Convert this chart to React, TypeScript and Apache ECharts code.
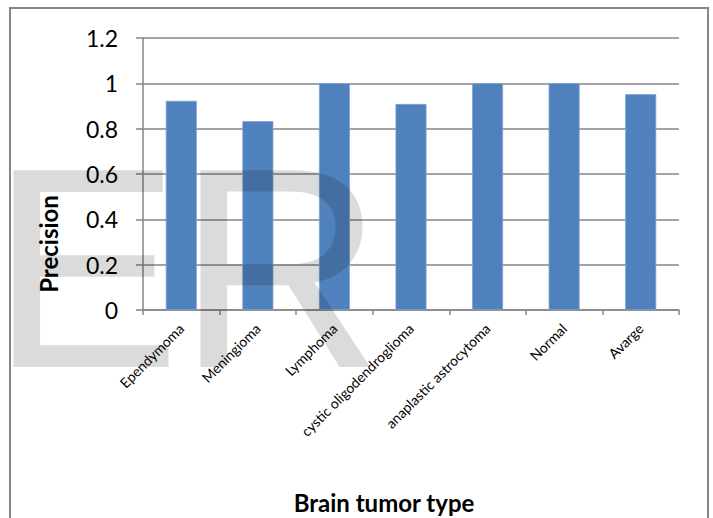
import React, { useEffect, useRef } from "react";
import * as echarts from "echarts";

const categories = [
  "Ependymoma",
  "Meningioma",
  "Lymphoma",
  "cystic oligodendroglioma",
  "anaplastic astrocytoma",
  "Normal",
  "Avarge",
];
const precision = [0.923, 0.833, 1, 0.909, 1, 1, 0.952];
const yTicks = { min: 0, max: 1.2, interval: 0.2 };
const yTitle = "Precision";
const xTitle = "Brain tumor type";
const watermark = ["E", "R"];

const GRAY = "#868686";
const FONT = "Lato, 'Noto Sans', sans-serif";

export default function App() {
  const ref = useRef<HTMLDivElement>(null);
  useEffect(() => {
    if (!ref.current) return;
    const chart = echarts.init(ref.current, undefined, { renderer: "svg" });
    chart.setOption({
      animation: false,
      backgroundColor: "#ffffff",
      grid: { left: 143, right: 34, top: 38, bottom: 208, containLabel: false },
      xAxis: {
        type: "category",
        data: categories,
        axisLine: { show: true, lineStyle: { color: GRAY, width: 1.5 } },
        axisTick: { show: true, length: 5, lineStyle: { color: GRAY, width: 1.5 } },
        axisLabel: {
          interval: 0,
          rotate: 45,
          margin: 16,
          fontSize: 14,
          fontFamily: FONT,
          color: "#000",
        },
      },
      yAxis: {
        type: "value",
        min: yTicks.min,
        max: yTicks.max,
        interval: yTicks.interval,
        axisLine: { show: true, lineStyle: { color: GRAY, width: 1.5 } },
        axisTick: { show: true, length: 7, lineStyle: { color: GRAY, width: 1.5 } },
        splitLine: { show: true, lineStyle: { color: GRAY, width: 1.5 } },
        axisLabel: {
          margin: 25,
          fontSize: 23,
          fontFamily: FONT,
          color: "#000",
        },
      },
      series: [
        {
          type: "bar",
          data: precision,
          barWidth: 31,
          itemStyle: { color: "#4f81bd", borderColor: "#7ea2cf", borderWidth: 0.8 },
        },
      ],
      graphic: [
        {
          type: "rect",
          shape: { x: 10, y: 8, width: 698, height: 530 },
          style: { fill: "none", stroke: GRAY, lineWidth: 2 },
          z: 0,
          silent: true,
        },
        {
          type: "text",
          x: 48,
          y: 244,
          rotation: Math.PI / 2,
          style: {
            text: yTitle,
            font: `bold 24px ${FONT}`,
            fill: "#000",
            align: "center",
            verticalAlign: "middle",
          },
          z: 50,
        },
        {
          type: "text",
          x: 384,
          y: 502,
          style: {
            text: xTitle,
            font: `bold 24px ${FONT}`,
            fill: "#000",
            align: "center",
            verticalAlign: "middle",
          },
          z: 50,
        },
        {
          type: "text",
          x: -10,
          y: 268,
          style: {
            text: watermark[0],
            font: `286px 'Liberation Sans', Arial, sans-serif`,
            fill: "rgba(0,0,0,0.14)",
            align: "left",
            verticalAlign: "middle",
          },
          z: 100,
          silent: true,
        },
        {
          type: "text",
          x: 177,
          y: 268,
          style: {
            text: watermark[1],
            font: `286px 'Liberation Sans', Arial, sans-serif`,
            fill: "rgba(0,0,0,0.14)",
            align: "left",
            verticalAlign: "middle",
          },
          z: 100,
          silent: true,
        },
      ],
    });
    return () => chart.dispose();
  }, []);
  return (
    <div
      ref={ref}
      style={{ position: "fixed", left: 0, top: 0, width: 713, height: 518 }}
    />
  );
}
